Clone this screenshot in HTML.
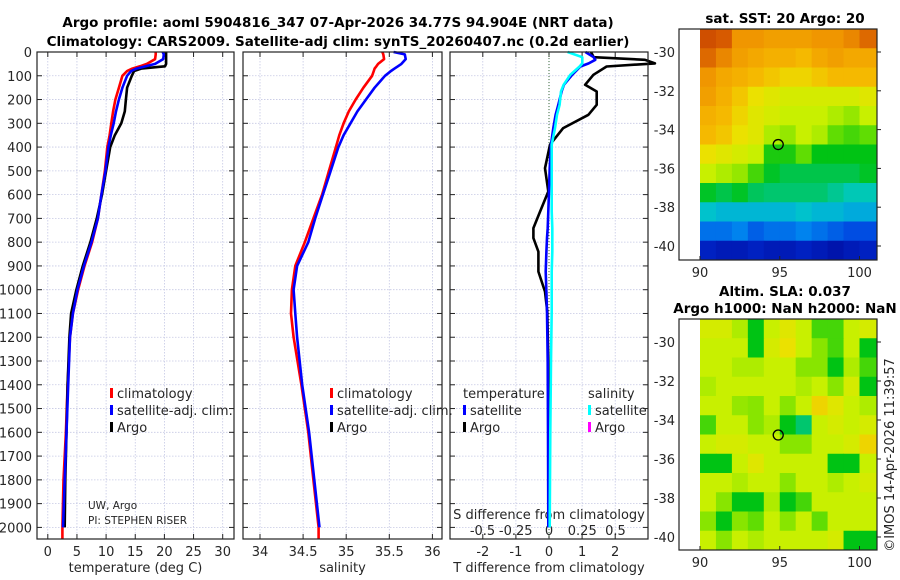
<!DOCTYPE html>
<html><head><meta charset="utf-8"><style>
body{margin:0;background:#fff;}
svg{display:block;font-family:"DejaVu Sans","Liberation Sans",sans-serif;}
.t{font-size:13px;fill:#262626;}
.b{font-size:13.5px;font-weight:bold;fill:#000;}
</style></head><body>
<svg id="fig" width="900" height="580" xmlns="http://www.w3.org/2000/svg">
<text class="b" x="338" y="27" text-anchor="middle">Argo profile: aoml 5904816_347 07-Apr-2026 34.77S 94.904E (NRT data)</text>
<text class="b" x="338" y="46" text-anchor="middle">Climatology: CARS2009. Satellite-adj clim: synTS_20260407.nc (0.2d earlier)</text>
<g id="g"></g>
</svg>
<script>
// ---- data ----
const depths=[0,10,30,50,60,70,80,100,150,200,250,300,350,400,500,600,700,800,900,1000,1100,1200,1400,1600,1800,2000];
const tArgo=[20.3,20.3,20.3,20.3,20.1,16.0,14.8,14.4,13.6,13.4,13.2,12.6,11.5,10.7,10.0,9.3,8.4,7.3,6.0,4.9,4.0,3.7,3.4,3.2,3.0,2.9];
const tClim=[18.5,18.5,18.4,17.0,15.8,14.5,13.6,12.8,12.2,11.6,11.2,10.9,10.6,10.2,9.8,9.2,8.6,7.6,6.3,5.2,4.3,3.8,3.4,3.1,2.7,2.5];
const tSat=[19.7,19.9,19.8,18.4,16.8,15.2,14.3,13.6,12.8,12.2,11.7,11.3,10.8,10.4,9.9,9.2,8.6,7.5,6.2,5.1,4.3,3.8,3.5,3.2,2.9,2.6];
const sClim=[35.42,35.43,35.44,35.37,35.35,35.33,35.32,35.30,35.20,35.11,35.03,34.97,34.92,34.88,34.80,34.72,34.62,34.52,34.41,34.37,34.36,34.39,34.48,34.56,34.62,34.68];
const sSat=[35.55,35.68,35.69,35.64,35.60,35.56,35.52,35.45,35.33,35.23,35.13,35.05,34.97,34.91,34.82,34.73,34.64,34.56,34.43,34.39,34.41,34.43,34.49,34.57,34.63,34.69];
const dDepths=[0,22,33,48,61,96,138,166,222,264,320,390,489,587,671,741,783,840,924,1008,1093,1300,1600,2000];
const dtArgo=[1.27,1.35,2.9,3.2,1.74,1.34,1.09,1.44,1.44,1.19,0.43,0.03,-0.12,-0.02,-0.27,-0.47,-0.47,-0.32,-0.32,-0.12,-0.05,-0.02,0,0];
const dtSat=[1.1,1.35,1.4,1.2,0.95,0.7,0.45,0.38,0.28,0.2,0.13,0.06,0.02,0,-0.02,-0.04,-0.06,-0.08,-0.1,-0.08,-0.06,-0.04,-0.03,-0.02];
const dsSat=[0.14,0.25,0.25,0.25,0.23,0.16,0.11,0.09,0.08,0.06,0.045,0.02,0.02,0.02,0.02,0.025,0.025,0.025,0.02,0.02,0.02,0.015,0.01,0.005];
const depthTicks=[0,100,200,300,400,500,600,700,800,900,1000,1100,1200,1300,1400,1500,1600,1700,1800,1900,2000];
const tTicks=[0,5,10,15,20,25,30];
const sTicks=[34,34.5,35,35.5,36];
const dtTicks=[-2,-1,0,1,2];
const dsTicks=[-0.5,-0.25,0,0.25,0.5];
const dsTickLabels=["-0.5","-0.25","0","0.25","0.5"];
const sst=[
[0.9,0.88,0.8,0.8,0.78,0.78,0.78,0.8,0.8,0.82,0.86],
[0.86,0.82,0.78,0.76,0.74,0.74,0.72,0.76,0.78,0.76,0.76],
[0.8,0.76,0.74,0.72,0.7,0.68,0.68,0.7,0.72,0.72,0.72],
[0.78,0.74,0.7,0.66,0.64,0.62,0.62,0.62,0.62,0.62,0.64],
[0.74,0.72,0.68,0.64,0.62,0.6,0.6,0.6,0.58,0.56,0.6],
[0.72,0.7,0.66,0.64,0.58,0.56,0.6,0.58,0.52,0.5,0.52],
[0.66,0.64,0.62,0.6,0.47,0.47,0.52,0.45,0.45,0.45,0.45],
[0.6,0.58,0.56,0.5,0.44,0.42,0.42,0.42,0.42,0.42,0.44],
[0.44,0.42,0.44,0.41,0.4,0.4,0.4,0.4,0.38,0.36,0.36],
[0.34,0.32,0.32,0.32,0.32,0.32,0.34,0.32,0.32,0.3,0.3],
[0.22,0.22,0.24,0.2,0.22,0.22,0.24,0.22,0.2,0.18,0.18],
[0.1,0.08,0.08,0.1,0.08,0.08,0.1,0.08,0.06,0.08,0.1]];
const sla=[
[.62,.62,.58,.45,.6,.64,.6,.5,.5,.6,.62],
[.6,.6,.6,.45,.62,.66,.6,.55,.5,.6,.45],
[.6,.6,.58,.58,.6,.6,.55,.55,.45,.58,.5],
[.58,.6,.6,.6,.6,.6,.58,.6,.55,.62,.45],
[.6,.6,.56,.55,.6,.55,.6,.68,.64,.6,.58],
[.5,.6,.6,.55,.58,.45,.4,.6,.62,.6,.62],
[.6,.62,.62,.6,.6,.55,.55,.6,.6,.62,.68],
[.45,.45,.6,.64,.6,.6,.6,.6,.45,.45,.6],
[.6,.6,.58,.6,.6,.55,.6,.6,.58,.6,.62],
[.6,.55,.45,.45,.58,.45,.5,.6,.6,.6,.6],
[.55,.45,.55,.52,.6,.55,.6,.52,.6,.6,.6],
[.6,.55,.6,.58,.6,.6,.6,.6,.62,.45,.45]];
const lonTicks=[90,95,100];
const latTicks=[-30,-32,-34,-36,-38,-40];
const argoLon=94.904, argoLat=-34.77;

// ---- drawing ----
const NS="http://www.w3.org/2000/svg";
const G=document.getElementById('g');
function el(tag,attrs,parent){const e=document.createElementNS(NS,tag);for(const k in attrs)e.setAttribute(k,attrs[k]);(parent||G).appendChild(e);return e;}
function txt(x,y,s,anchor,cls,parent){const e=el('text',{x:x,y:y,'text-anchor':anchor||'middle',class:cls||'t'},parent);e.textContent=s;return e;}
const yD=d=>52+d*0.2377;
const Y0=52,Y1=539;
function panel(name,x0,x1,xs,xticks,xlabels,xtitle,showY){
  const p=el('g',{});
  
  
  for(const d of depthTicks){el('line',{x1:x0,x2:x1,y1:yD(d),y2:yD(d),stroke:'#c5c8e4','stroke-width':0.8,'stroke-dasharray':'1.5 1.5'},p);}
  xticks.forEach((v,i)=>{const x=xs(v);el('line',{x1:x,x2:x,y1:Y0,y2:Y1,stroke:'#c5c8e4','stroke-width':0.8,'stroke-dasharray':'1.5 1.5'},p);
    el('line',{x1:x,x2:x,y1:Y1,y2:Y1-5,stroke:'#222'},p);el('line',{x1:x,x2:x,y1:Y0,y2:Y0+5,stroke:'#222'},p);
    if(xlabels){const t=txt(x,556,xlabels[i],'middle','t',p);}});
  for(const d of depthTicks){el('line',{x1:x0,x2:x0+5,y1:yD(d),y2:yD(d),stroke:'#222'},p);el('line',{x1:x1,x2:x1-5,y1:yD(d),y2:yD(d),stroke:'#222'},p);
    if(showY){const t=txt(32,yD(d)+5,String(d),'end','t',p);}}
  if(xtitle){const t=txt((x0+x1)/2,572,xtitle,'middle','t',p);}
  return p;
}
function frame(x0,x1,name){const r=el('rect',{x:x0,y:Y0,width:x1-x0,height:Y1-Y0,fill:'none',stroke:'#222','stroke-width':1.2});}
function line(xs,vals,ds,color,name,w){
  const pts=vals.map((v,i)=>xs(v).toFixed(1)+','+yD(ds[i]).toFixed(1)).join(' ');
  const e=el('polyline',{points:pts,fill:'none',stroke:color,'stroke-width':w||2.6,'stroke-linejoin':'round'});
  
  
  return e;
}
function legend(x,y,items,name){
  const g=el('g',{});
  
  
  items.forEach((it,i)=>{const yy=y+i*17;if(it[0])el('rect',{x:x,y:yy-9,width:3,height:10,fill:it[0]},g);txt(x+(it[0]?7:0),yy+1,it[1],'start','t',g);});
}
// temperature
const xT=v=>47.8+v*5.83;
panel('temperature-panel',37,234,xT,tTicks,tTicks.map(String),'temperature (deg C)',true);
line(xT,[tClim[tClim.length-1],tClim[tClim.length-1]],[2000,2050],'#ff0000','clim-temp-bottom');
line(xT,tClim,depths,'#ff0000','clim-temp-line');
line(xT,tArgo,depths,'#000000','argo-temp-line');
line(xT,tSat,depths,'#0000ff','sat-temp-line');
frame(37,234,'temperature-axes');
legend(110,397,[['#ff0000','climatology'],['#0000ff','satellite-adj. clim.'],['#000','Argo']],'temperature-legend');
txt(88,509,'UW, Argo','start','t').setAttribute('style','font-size:10.5px');
txt(88,524,'PI: STEPHEN RISER','start','t').setAttribute('style','font-size:10.5px');
// salinity
const xS=v=>260+(v-34)*86.2;
panel('salinity-panel',243,442,xS,sTicks,sTicks.map(String),'salinity',false);
line(xS,[sClim[sClim.length-1],sClim[sClim.length-1]],[2000,2050],'#ff0000','clim-sal-bottom');
line(xS,sClim,depths,'#ff0000','clim-sal-line');
line(xS,sSat,depths,'#0000ff','sat-sal-line');
frame(243,442,'salinity-axes');
legend(330,397,[['#ff0000','climatology'],['#0000ff','satellite-adj. clim.'],['#000','Argo']],'salinity-legend');
// difference
const xDT=v=>549+v*33.1;
const xDS=v=>549+v*133;
panel('difference-panel',450,648,xDT,dtTicks,dtTicks.map(String),'T difference from climatology',false);
dsTicks.forEach((v,i)=>{const t=txt(xDS(v),535,dsTickLabels[i],'middle','t');});
txt(549,519,'S difference from climatology','middle','t');
el('line',{x1:549,x2:549,y1:Y0,y2:Y1,stroke:'#3a6a3a','stroke-width':1,'stroke-dasharray':'1 2'});
line(xDT,dtArgo,dDepths,'#000000','argo-tdiff-line');
line(xDT,dtSat,dDepths,'#0000ff','sat-tdiff-line');
line(xDS,dsSat,dDepths,'#00ffff','sat-sdiff-line');
frame(450,648,'difference-axes');
legend(463,397,[[null,'temperature'],['#0000ff','satellite'],['#000','Argo']],'tdiff-legend');
legend(588,397,[[null,'salinity'],['#00ffff','satellite'],['#ff00ff','Argo']],'sdiff-legend');

// maps
const cmStops=[[0,[0,0,140]],[0.15,[0,50,220]],[0.25,[0,140,240]],[0.35,[0,200,200]],[0.45,[0,195,20]],[0.53,[110,225,0]],[0.6,[200,240,0]],[0.66,[235,225,0]],[0.72,[245,185,0]],[0.8,[240,150,0]],[0.88,[215,90,0]],[1,[165,25,0]]];
function cmap(v){v=Math.max(0,Math.min(1,v));for(let i=1;i<cmStops.length;i++){if(v<=cmStops[i][0]){const a=cmStops[i-1],b=cmStops[i];const f=(v-a[0])/(b[0]-a[0]);const c=a[1].map((x,k)=>Math.round(x+(b[1][k]-x)*f));return `rgb(${c[0]},${c[1]},${c[2]})`;}}return 'rgb(165,25,0)';}
function map(name,grid,top,bottom,lat30,latScale,title){
  const g=el('g',{});
  
  
  const xL=lon=>700+(lon-90)*15.95;
  const yL=lat=>lat30+(-30-lat)*latScale;
  const latTop=-30+(lat30-top)/latScale;
  const rows=grid.length,cols=grid[0].length;
  const dLat=(latTop-(-30+(lat30-bottom)/latScale))/rows;
  for(let i=0;i<rows;i++)for(let j=0;j<cols;j++){
    const la=latTop-i*dLat;const x0=xL(90+j),x1=Math.min(877,xL(91+j)+(j==cols-1?10:0));
    const c=el('rect',{x:x0,y:yL(la),width:x1-x0+0.5,height:dLat*latScale+0.5,fill:cmap(grid[i][j])},g);
    
    
  }
  el('rect',{x:679,y:top,width:198,height:bottom-top,fill:'none',stroke:'#222','stroke-width':1.2},g);
  lonTicks.forEach(v=>{el('line',{x1:xL(v),x2:xL(v),y1:bottom,y2:bottom-4,stroke:'#222'},g);txt(xL(v),bottom+17,String(v),'middle','t',g);});
  latTicks.forEach(v=>{el('line',{x1:877,x2:881,y1:yL(v),y2:yL(v),stroke:'#222'},g);txt(675,yL(v)+5,String(v),'end','t',g);});
  const m=el('circle',{cx:xL(argoLon),cy:yL(argoLat),r:5,fill:'none',stroke:'#000','stroke-width':1.3},g);
  
  
  title.forEach((s,i)=>txt(785,top-(title.length-1-i)*17-6,s,'middle','b',g));
}
map('sst-map',sst,29,260,52,19.4,['sat. SST: 20 Argo: 20']);
map('sla-map',sla,319,550,342,19.5,['Altim. SLA: 0.037','Argo h1000: NaN h2000: NaN']);
const cp=txt(0,0,'©IMOS 14-Apr-2026 11:39:57','middle','t');
cp.setAttribute('transform','translate(894,455) rotate(-90)');


</script>
</body></html>
